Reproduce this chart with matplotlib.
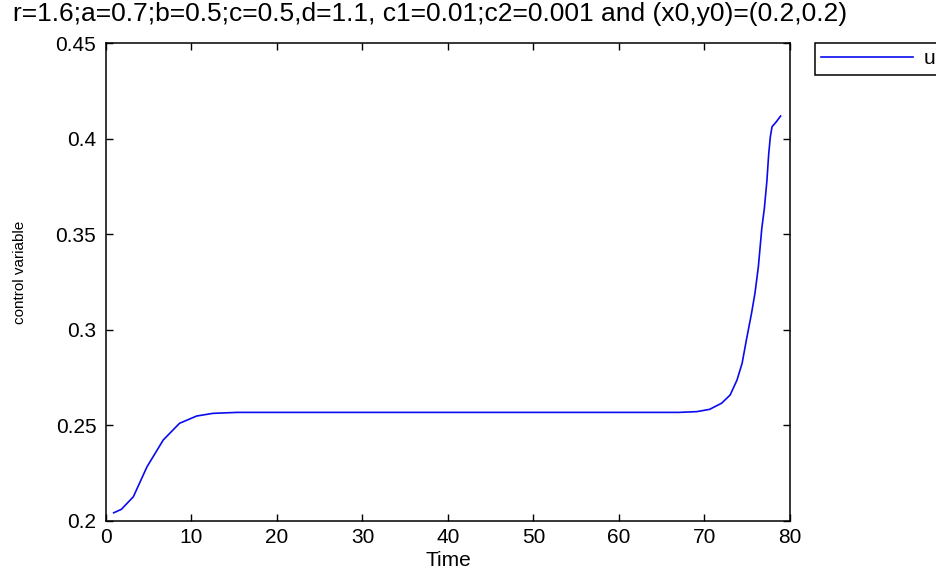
import numpy as np
import matplotlib
matplotlib.use("Agg")
import matplotlib.pyplot as plt

plt.rcParams['font.family'] = ['Liberation Sans', 'DejaVu Sans']

# values
time = [0.9, 1.8, 3.2, 4.8, 6.7, 8.6, 10.6, 12.5, 15.3, 30, 50, 67,
        69.1, 70.6, 72.0, 73.0, 73.8, 74.4, 74.9, 75.5, 75.9, 76.3,
        76.7, 77.0, 77.3, 77.5, 77.7, 77.9, 78.4, 78.9]
control = [0.2043, 0.2061, 0.2127, 0.2284, 0.2424, 0.2511, 0.2549, 0.2563,
           0.2568, 0.2568, 0.2568, 0.2568, 0.2572, 0.2584, 0.2616, 0.2659,
           0.2737, 0.2825, 0.2947, 0.3086, 0.3191, 0.3330, 0.3530, 0.3635,
           0.3780, 0.3914, 0.4010, 0.4062, 0.4088, 0.4118]

x_ticks = [0, 10, 20, 30, 40, 50, 60, 70, 80]
y_ticks = [0.2, 0.25, 0.3, 0.35, 0.4, 0.45]
y_tick_labels = ['0.2', '0.25', '0.3', '0.35', '0.4', '0.45']

title = 'r=1.6;a=0.7;b=0.5;c=0.5,d=1.1, c1=0.01;c2=0.001 and (x0,y0)=(0.2,0.2)'

fig = plt.figure(figsize=(9.37, 5.69), dpi=100)
ax = fig.add_axes([106 / 937, 1 - 521 / 569, 684 / 937, 478 / 569])

ax.plot(time, control, color='#0a0af0', linewidth=1.2, label='u')

ax.set_xlim(0, 80)
ax.set_ylim(0.2, 0.45)
ax.set_xticks(x_ticks)
ax.set_yticks(y_ticks)
ax.set_yticklabels(y_tick_labels)
ax.tick_params(direction='in', top=True, right=True, length=5, width=1,
               labelsize=15)
ax.tick_params(axis='y', pad=7)
ax.tick_params(axis='x', pad=5)
for s in ax.spines.values():
    s.set_linewidth(1.1)

# title sits a bit left of the axes centre in the original
fig.text(430 / 937, 1 - 14 / 569, title, fontsize=19,
         ha='center', va='center')
ax.set_xlabel('Time', fontsize=15, labelpad=3)
fig.text(20 / 937, 1 - 272 / 569, 'control variable', rotation=90,
         fontsize=11, ha='center', va='center')

leg = ax.legend(loc='upper left', bbox_to_anchor=(1.0365, 1.0),
                borderaxespad=0, fontsize=15, handlelength=4.4,
                handletextpad=0.5, borderpad=0.3, fancybox=False,
                framealpha=1, edgecolor='black')
leg.get_frame().set_linewidth(1.1)

fig.savefig('out.png', dpi=100)
